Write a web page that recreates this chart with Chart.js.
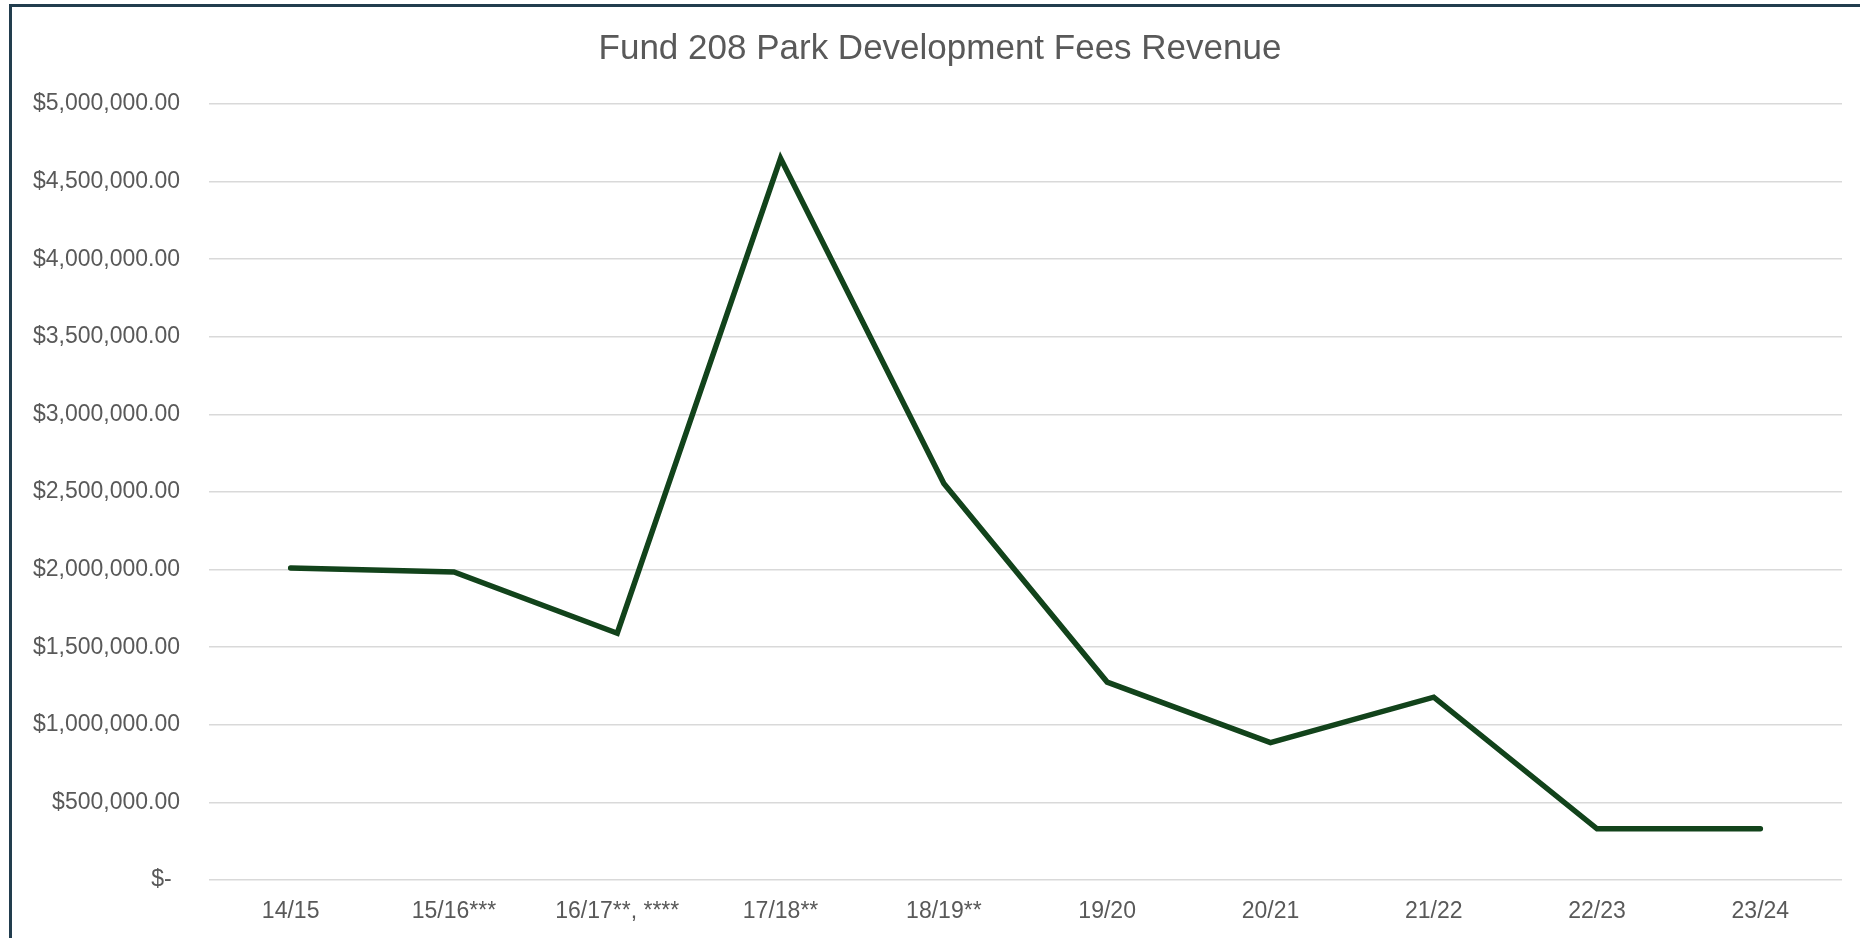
<!DOCTYPE html>
<html>
<head>
<meta charset="utf-8">
<script src="https://cdn.jsdelivr.net/npm/chart.js@4.4.1/dist/chart.umd.min.js"></script>
<style>
  html, body { margin: 0; padding: 0; background: #fff; overflow: hidden; }
  #chart { position: absolute; left: 0; top: 0; }
  #frame {
    position: absolute; left: 9px; top: 4px; width: 2000px; height: 2000px;
    border-left: 3px solid #223d4e; border-top: 3px solid #223d4e;
    pointer-events: none;
  }
</style>
</head>
<body>
<canvas id="chart" width="1860" height="938"></canvas>
<div id="frame"></div>
<script>
// datos del grafico
const years = ["14/15", "15/16***", "16/17**, ****", "17/18**", "18/19**", "19/20", "20/21", "21/22", "22/23", "23/24"];
const revenue = [2010000, 1985000, 1590000, 4650000, 2555000, 1275000, 885000, 1178000, 330000, 330000];
const yTickValues = [0, 500000, 1000000, 1500000, 2000000, 2500000, 3000000, 3500000, 4000000, 4500000, 5000000];
const yTickLabels = ["$- \u200A", "$500,000.00", "$1,000,000.00", "$1,500,000.00", "$2,000,000.00", "$2,500,000.00",
  "$3,000,000.00", "$3,500,000.00", "$4,000,000.00", "$4,500,000.00", "$5,000,000.00"];

const fuente = "'Liberation Sans', Arial, sans-serif";
const gris = "#595959";

// el titulo va centrado un poco a la derecha (como en Excel)
const moverTitulo = {
  id: "moverTitulo",
  afterLayout(chart) {
    if (chart.titleBlock) {
      chart.titleBlock.left = 38;
      chart.titleBlock.right = 1842;
      chart.titleBlock.width = 1842 - 38;
    }
  }
};

const ctx = document.getElementById("chart").getContext("2d");

new Chart(ctx, {
  type: "line",
  data: {
    labels: years,
    datasets: [{
      label: "Revenue",
      data: revenue,
      borderColor: "#12431b",
      backgroundColor: "#12431b",
      borderWidth: 5.5,
      borderCapStyle: "round",
      borderJoinStyle: "miter",
      pointRadius: 0,
      tension: 0,
      fill: false
    }]
  },
  plugins: [moverTitulo],
  options: {
    responsive: false,
    animation: false,
    layout: { padding: { left: 0, right: 18, top: 0, bottom: 0 } },
    plugins: {
      legend: { display: false },
      tooltip: { enabled: false },
      title: {
        display: true,
        text: "Fund 208 Park Development Fees Revenue",
        color: gris,
        font: { family: fuente, size: 35, weight: "normal" },
        padding: { top: 28, bottom: 34 }
      }
    },
    scales: {
      x: {
        offset: true,
        grid: { display: false, drawTicks: false, offset: true },
        border: { display: false },
        ticks: {
          color: gris,
          font: { family: fuente, size: 23 },
          padding: 18,
          maxRotation: 0,
          autoSkip: false
        },
        afterFit: (scale) => { scale.height = 58; }
      },
      y: {
        min: 0,
        max: 5000000,
        grid: { color: "#d9d9d9", lineWidth: 1.5, drawTicks: false },
        border: { display: false },
        ticks: {
          stepSize: 500000,
          color: gris,
          font: { family: fuente, size: 23 },
          padding: 29,
          callback: (v) => {
            const i = yTickValues.indexOf(v);
            return i >= 0 ? yTickLabels[i] : "";
          }
        },
        afterFit: (scale) => { scale.width = 209; }
      }
    }
  }
});
</script>
</body>
</html>
